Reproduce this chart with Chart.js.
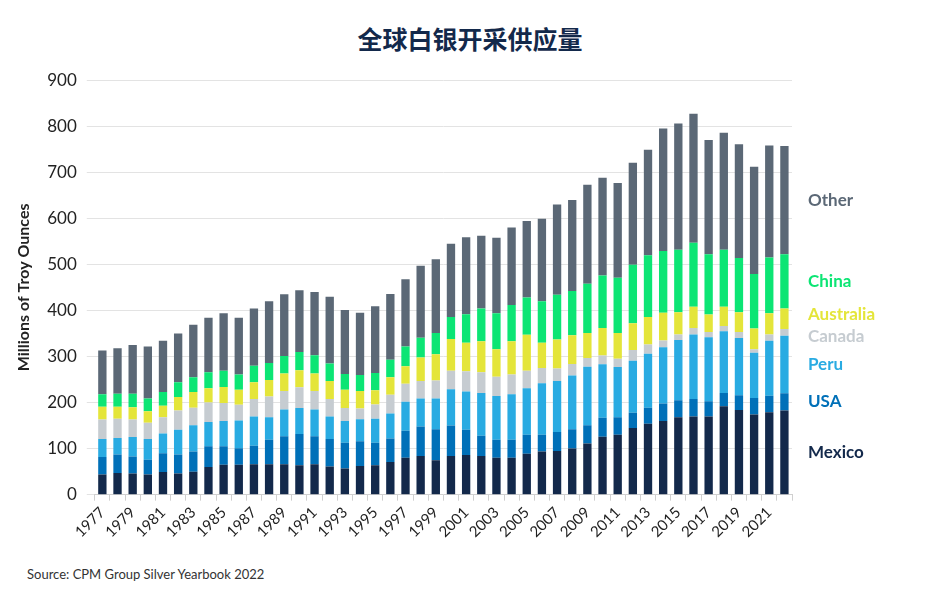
<!DOCTYPE html>
<html lang="zh-CN">
<head>
  <meta charset="UTF-8" />
  <title>全球白银开采供应量</title>
  <script src="https://cdn.jsdelivr.net/npm/chart.js"></script>
  <style>
    body { margin: 0; background: #fff; font-family: Lato, "Noto Sans", "Noto Sans CJK SC", sans-serif; }
    .wrap { position: relative; width: 940px; height: 600px; }
    h2 { position: absolute; top: 20px; left: 0; width: 940px; margin: 0; text-align: center;
         font-size: 25px; font-weight: bold; color: #13294b; font-family: "Noto Sans CJK SC", sans-serif; }
    .src { position: absolute; left: 27px; top: 566px; font-size: 13px; color: #333; }
    #chart { position: absolute; left: 0; top: 60px; }
  </style>
</head>
<body>
<div class="wrap">
  <h2>全球白银开采供应量</h2>
  <canvas id="chart" width="940" height="490"></canvas>
  <div class="src">Source: CPM Group Silver Yearbook 2022</div>
</div>
<script>
const years = [];
for (let y = 1977; y <= 2022; y++) years.push(String(y));

const mexico = [44,47,46,44,49,46,50,60,65,65,66,66,66,64,66,61,57,62,64,71,80,84,75,84,86,84,80,80,89,94,95,100,111,126,130,145,154,160,168,170,170,192,184,174,179,183];
const usa = [38,40,37,32,41,41,44,45,40,36,40,53,61,68,61,60,56,54,49,51,59,64,67,66,55,44,39,39,41,36,41,42,40,41,38,33,35,38,37,38,33,29,32,36,36,37];
const peru = [39,36,42,45,43,54,57,53,55,60,64,49,58,56,58,49,47,48,52,54,63,61,67,79,83,93,95,99,101,112,111,117,127,116,109,113,117,122,131,140,139,134,124,98,119,125];
const canada = [42,42,38,35,35,42,38,42,39,34,38,45,40,45,40,38,28,23,31,41,39,38,39,40,44,45,42,43,38,33,27,25,19,19,18,23,20,15,12,14,11,11,13,8,14,15];
const australia = [28,26,27,25,25,29,34,31,35,33,36,36,38,37,38,39,40,38,31,38,38,51,57,69,62,67,60,72,78,55,63,62,54,60,56,58,60,60,48,46,38,42,43,45,46,44];
const china = [27,28,29,28,30,32,32,35,35,33,36,37,38,40,40,38,34,35,37,38,43,43,46,48,62,71,78,79,81,90,97,96,107,114,120,127,134,134,136,139,131,124,118,118,121,118];
const other = [95,99,106,113,111,106,114,118,125,123,124,134,134,134,137,145,139,135,145,143,146,156,160,159,167,158,164,168,166,179,196,198,215,212,206,222,229,266,274,280,248,254,247,233,243,235];

const seriesNames = ['Mexico','USA','Peru','Canada','Australia','China','Other'];
const seriesData = [mexico, usa, peru, canada, australia, china, other];
const seriesColors = ['#13294b','#0070b8','#29abe2','#c6ccd1','#e4e53a','#0ce574','#5b6876'];

const sideLabels = {
  id: 'sideLabels',
  afterDatasetsDraw(chart) {
    const ctx = chart.ctx;
    const last = years.length - 1;
    const items = chart.data.datasets.map((ds, i) => {
      const el = chart.getDatasetMeta(i).data[last];
      return { text: ds.label, color: seriesColors[i], y: (el.y + el.base) / 2 };
    });
    // push overlapping labels apart
    for (let k = 0; k < 30; k++) {
      for (let i = 1; i < items.length; i++) {
        const gap = items[i - 1].y - items[i].y;
        if (gap < 22) {
          const d = (22 - gap) / 2;
          items[i - 1].y += d;
          items[i].y -= d;
        }
      }
    }
    ctx.save();
    ctx.font = 'bold 17px Lato, "Noto Sans", sans-serif';
    ctx.textBaseline = 'middle';
    items.forEach(it => {
      ctx.fillStyle = it.color;
      ctx.fillText(it.text, chart.chartArea.right + 16, it.y);
    });
    ctx.restore();
  }
};

new Chart(document.getElementById('chart'), {
  type: 'bar',
  data: {
    labels: years,
    datasets: seriesNames.map((name, i) => ({
      label: name,
      data: seriesData[i],
      backgroundColor: seriesColors[i],
      barPercentage: 0.55,
      categoryPercentage: 1.0
    }))
  },
  options: {
    responsive: false,
    animation: false,
    layout: { padding: { left: 10, right: 148, top: 10, bottom: 6 } },
    plugins: { legend: { display: false }, tooltip: { enabled: false } },
    scales: {
      x: {
        stacked: true,
        grid: { display: true, drawOnChartArea: false, color: '#d0d0d0', tickLength: 6 },
        border: { color: '#d0d0d0' },
        ticks: {
          autoSkip: false, maxRotation: 45, minRotation: 45,
          color: '#222', font: { size: 15, family: 'Lato, "Noto Sans", sans-serif' },
          callback: function (v, i) { return i % 2 === 0 ? years[i] : ''; }
        }
      },
      y: {
        stacked: true, min: 0, max: 900,
        ticks: { stepSize: 100, color: '#222', padding: 10, font: { size: 17, family: 'Lato, "Noto Sans", sans-serif' } },
        grid: { color: '#e3e3e3' },
        border: { display: false },
        title: { display: true, text: 'Millions of Troy Ounces', color: '#222',
                 font: { size: 16, weight: 'bold', family: 'Lato, "Noto Sans", sans-serif' } }
      }
    }
  },
  plugins: [sideLabels]
});
</script>
</body>
</html>
